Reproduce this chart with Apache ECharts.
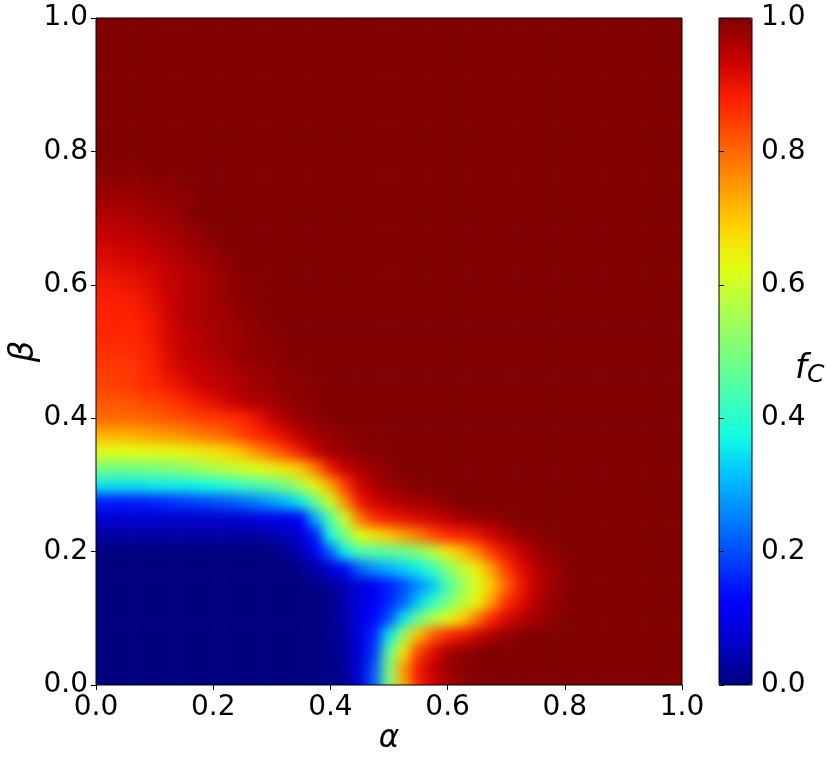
<!DOCTYPE html>
<html>
<head>
<meta charset="utf-8">
<title>fC heatmap</title>
<script src="https://cdn.jsdelivr.net/npm/echarts@6/dist/echarts.min.js"></script>
<style>
  html, body { margin: 0; padding: 0; background: #fff; }
  #clip { position: absolute; left: 96px; top: 18px; width: 586px; height: 667px; overflow: hidden; }
  #heat { position: absolute; left: -60px; top: -60px; width: 706px; height: 787px; filter: blur(6px); }
  #main { position: absolute; left: 0; top: 0; width: 831px; height: 762px; }
</style>
</head>
<body>
<div id="clip"><div id="heat"></div></div>
<div id="main"></div>
<script>
// jet colormap, 17 even stops
const jetColors = ["#00007f", "#0000c8", "#0000ff", "#0040ff", "#0080ff", "#00bfff", "#14ffe2", "#48ffaf", "#7bff7b",
  "#afff48", "#e2ff15", "#ffd200", "#ff9700", "#ff5c00", "#ff2100", "#c80000", "#800000"];

// alpha: 0 .. 1 step 0.025 (columns), beta: 0 .. 1 step 0.025 (rows, first row is beta = 0)
const alphaValues = [];
const betaValues = [];
for (let k = 0; k <= 40; k++) {
  alphaValues.push((k * 0.025).toFixed(3));
  betaValues.push((k * 0.025).toFixed(3));
}

const fcValues = [
  [0,0,0,0,0, 0,0,0,0,0, 0,0,0,0,0, 0,.005,.02,.08,.22, .5,.73,.88,.93,.97, .99,1,1,1,1, 1,1,1,1,1, 1,1,1,1,1, 1],
  [0,0,0,0,0, 0,0,0,0,0, 0,0,0,0,0, 0,.005,.02,.08,.21, .5,.74,.89,.94,.975, .99,1,1,1,1, 1,1,1,1,1, 1,1,1,1,1, 1],
  [0,0,0,0,0, 0,0,0,0,0, 0,0,0,0,0, 0,.01,.03,.08,.18, .46,.66,.84,.91,.96, .985,.995,1,1,1, 1,1,1,1,1, 1,1,1,1,1, 1],
  [0,0,0,0,0, 0,0,0,0,0, 0,0,0,0,0, 0,.01,.03,.09,.16, .35,.54,.71,.81,.87, .9,.93,.96,.98,.99, 1,1,1,1,1, 1,1,1,1,1, 1],
  [0,0,0,0,0, 0,0,0,0,0, 0,0,0,0,0, 0,.01,.04,.09,.13, .2,.35,.48,.56,.62, .69,.78,.87,.92,.95, .97,.985,.995,1,1, 1,1,1,1,1, 1],
  [0,0,0,0,0, 0,0,0,0,0, 0,0,0,0,0, 0,.01,.04,.08,.12, .16,.22,.32,.41,.49, .57,.64,.74,.86,.91, .95,.98,.99,1,1, 1,1,1,1,1, 1],
  [0,0,0,0,0, 0,0,0,0,0, 0,0,0,0,0, .01,.02,.05,.08,.11, .15,.2,.26,.32,.44, .53,.61,.7,.8,.89, .94,.97,.99,1,1, 1,1,1,1,1, 1],
  [0,0,0,0,0, 0,0,0,0,0, 0,0,0,0,.01, .03,.08,.13,.22,.27, .3,.33,.36,.42,.51, .58,.65,.74,.85,.91, .95,.975,.99,1,1, 1,1,1,1,1, 1],
  [0,0,0,0,0, 0,0,0,0,0, 0,0,0,.02,.05, .11,.22,.36,.44,.45, .46,.48,.51,.57,.65, .71,.77,.85,.9,.94, .97,.985,.995,1,1, 1,1,1,1,1, 1],
  [.03,.03,.03,.03,.03, .03,.03,.03,.03,.03, .03,.03,.04,.05,.07, .15,.38,.5,.62,.66, .7,.74,.78,.83,.87, .88,.9,.93,.96,.98, .99,1,1,1,1, 1,1,1,1,1, 1],
  [.07,.07,.07,.07,.07, .07,.07,.07,.07,.07, .08,.09,.1,.1,.12, .3,.45,.6,.78,.86, .89,.905,.92,.93,.95, .97,.98,.985,.99,1, 1,1,1,1,1, 1,1,1,1,1, 1],
  [.15,.15,.15,.15,.16, .17,.18,.19,.2,.21, .23,.25,.28,.31,.36, .48,.6,.76,.89,.93, .95,.96,.97,.98,.99, 1,1,1,1,1, 1,1,1,1,1, 1,1,1,1,1, 1],
  [.35,.35,.35,.35,.36, .36,.36,.37,.38,.4, .42,.44,.46,.5,.56, .64,.73,.85,.93,.96, .98,.99,1,1,1, 1,1,1,1,1, 1,1,1,1,1, 1,1,1,1,1, 1],
  [.49,.49,.49,.49,.5, .51,.52,.54,.56,.58, .6,.62,.64,.66,.7, .78,.89,.94,.96,.98, .99,1,1,1,1, 1,1,1,1,1, 1,1,1,1,1, 1,1,1,1,1, 1],
  [.62,.62,.62,.625,.63, .635,.64,.65,.66,.685, .71,.755,.8,.84,.89, .94,.97,.98,.99,.995, 1,1,1,1,1, 1,1,1,1,1, 1,1,1,1,1, 1,1,1,1,1, 1],
  [.72,.72,.72,.73,.74, .75,.76,.78,.79,.81, .84,.87,.89,.92,.95, .97,.98,.99,.995,1, 1,1,1,1,1, 1,1,1,1,1, 1,1,1,1,1, 1,1,1,1,1, 1],
  [.8,.8,.8,.8,.81, .82,.83,.84,.85,.86, .87,.9,.94,.96,.98, .99,.995,1,1,1, 1,1,1,1,1, 1,1,1,1,1, 1,1,1,1,1, 1,1,1,1,1, 1],
  [.82,.82,.82,.83,.84, .85,.87,.89,.91,.93, .95,.96,.97,.98,.99, .995,1,1,1,1, 1,1,1,1,1, 1,1,1,1,1, 1,1,1,1,1, 1,1,1,1,1, 1],
  [.84,.84,.85,.86,.87, .89,.91,.93,.94,.95, .96,.975,.98,.99,.99, .995,1,1,1,1, 1,1,1,1,1, 1,1,1,1,1, 1,1,1,1,1, 1,1,1,1,1, 1],
  [.85,.85,.85,.86,.88, .91,.93,.94,.95,.96, .97,.98,.985,.99,.995, 1,1,1,1,1, 1,1,1,1,1, 1,1,1,1,1, 1,1,1,1,1, 1,1,1,1,1, 1],
  [.86,.86,.86,.87,.885, .92,.94,.95,.96,.97, .98,.985,.99,.995,1, 1,1,1,1,1, 1,1,1,1,1, 1,1,1,1,1, 1,1,1,1,1, 1,1,1,1,1, 1],
  [.87,.87,.87,.875,.895, .925,.945,.955,.965,.975, .98,.99,.995,1,1, 1,1,1,1,1, 1,1,1,1,1, 1,1,1,1,1, 1,1,1,1,1, 1,1,1,1,1, 1],
  [.875,.875,.875,.88,.9, .93,.95,.96,.97,.975, .985,.99,1,1,1, 1,1,1,1,1, 1,1,1,1,1, 1,1,1,1,1, 1,1,1,1,1, 1,1,1,1,1, 1],
  [.88,.88,.88,.89,.91, .935,.95,.96,.97,.98, .99,.995,1,1,1, 1,1,1,1,1, 1,1,1,1,1, 1,1,1,1,1, 1,1,1,1,1, 1,1,1,1,1, 1],
  [.89,.89,.895,.905,.92, .94,.95,.96,.97,.985, .99,1,1,1,1, 1,1,1,1,1, 1,1,1,1,1, 1,1,1,1,1, 1,1,1,1,1, 1,1,1,1,1, 1],
  [.91,.91,.915,.92,.93, .945,.955,.965,.975,.985, .995,1,1,1,1, 1,1,1,1,1, 1,1,1,1,1, 1,1,1,1,1, 1,1,1,1,1, 1,1,1,1,1, 1],
  [.925,.925,.93,.935,.945, .955,.965,.975,.985,.995, 1,1,1,1,1, 1,1,1,1,1, 1,1,1,1,1, 1,1,1,1,1, 1,1,1,1,1, 1,1,1,1,1, 1],
  [.94,.94,.945,.95,.96, .965,.975,.985,.995,1, 1,1,1,1,1, 1,1,1,1,1, 1,1,1,1,1, 1,1,1,1,1, 1,1,1,1,1, 1,1,1,1,1, 1],
  [.955,.955,.96,.965,.97, .975,.985,.995,1,1, 1,1,1,1,1, 1,1,1,1,1, 1,1,1,1,1, 1,1,1,1,1, 1,1,1,1,1, 1,1,1,1,1, 1],
  [.97,.97,.97,.975,.98, .985,.99,1,1,1, 1,1,1,1,1, 1,1,1,1,1, 1,1,1,1,1, 1,1,1,1,1, 1,1,1,1,1, 1,1,1,1,1, 1],
  [.985,.985,.985,.985,.99, .99,.995,1,1,1, 1,1,1,1,1, 1,1,1,1,1, 1,1,1,1,1, 1,1,1,1,1, 1,1,1,1,1, 1,1,1,1,1, 1],
  [.995,.995,.995,.995,1, 1,1,1,1,1, 1,1,1,1,1, 1,1,1,1,1, 1,1,1,1,1, 1,1,1,1,1, 1,1,1,1,1, 1,1,1,1,1, 1],
  [1,1,1,1,1, 1,1,1,1,1, 1,1,1,1,1, 1,1,1,1,1, 1,1,1,1,1, 1,1,1,1,1, 1,1,1,1,1, 1,1,1,1,1, 1],
  [1,1,1,1,1, 1,1,1,1,1, 1,1,1,1,1, 1,1,1,1,1, 1,1,1,1,1, 1,1,1,1,1, 1,1,1,1,1, 1,1,1,1,1, 1],
  [1,1,1,1,1, 1,1,1,1,1, 1,1,1,1,1, 1,1,1,1,1, 1,1,1,1,1, 1,1,1,1,1, 1,1,1,1,1, 1,1,1,1,1, 1],
  [1,1,1,1,1, 1,1,1,1,1, 1,1,1,1,1, 1,1,1,1,1, 1,1,1,1,1, 1,1,1,1,1, 1,1,1,1,1, 1,1,1,1,1, 1],
  [1,1,1,1,1, 1,1,1,1,1, 1,1,1,1,1, 1,1,1,1,1, 1,1,1,1,1, 1,1,1,1,1, 1,1,1,1,1, 1,1,1,1,1, 1],
  [1,1,1,1,1, 1,1,1,1,1, 1,1,1,1,1, 1,1,1,1,1, 1,1,1,1,1, 1,1,1,1,1, 1,1,1,1,1, 1,1,1,1,1, 1],
  [1,1,1,1,1, 1,1,1,1,1, 1,1,1,1,1, 1,1,1,1,1, 1,1,1,1,1, 1,1,1,1,1, 1,1,1,1,1, 1,1,1,1,1, 1],
  [1,1,1,1,1, 1,1,1,1,1, 1,1,1,1,1, 1,1,1,1,1, 1,1,1,1,1, 1,1,1,1,1, 1,1,1,1,1, 1,1,1,1,1, 1],
  [1,1,1,1,1, 1,1,1,1,1, 1,1,1,1,1, 1,1,1,1,1, 1,1,1,1,1, 1,1,1,1,1, 1,1,1,1,1, 1,1,1,1,1, 1]
];

const FONT = '"DejaVu Sans"';
const PLOT = { left: 96, top: 18, width: 586, height: 667 };
const BAR = { left: 719, top: 18, width: 33, height: 667 };

// heatmap layer: cell centres sit on the grid values, edge cells repeat outward so the blur
// does not fade at the frame
const PAD = 3;
const nx = alphaValues.length;
const ny = betaValues.length;
const cellW = PLOT.width / (nx - 1);
const cellH = PLOT.height / (ny - 1);
const xCats = [];
const yCats = [];
for (let i = -PAD; i < nx + PAD; i++) xCats.push(String(i));
for (let j = -PAD; j < ny + PAD; j++) yCats.push(String(j));
const heatData = [];
for (let j = -PAD; j < ny + PAD; j++) {
  const row = fcValues[Math.min(ny - 1, Math.max(0, j))];
  for (let i = -PAD; i < nx + PAD; i++) {
    heatData.push([i + PAD, j + PAD, row[Math.min(nx - 1, Math.max(0, i))]]);
  }
}

const heat = echarts.init(document.getElementById("heat"));
heat.setOption({
  animation: false,
  grid: {
    left: 60 - (PAD + 0.5) * cellW,
    top: 60 - (PAD + 0.5) * cellH,
    width: xCats.length * cellW,
    height: yCats.length * cellH,
    outerBoundsMode: "none"
  },
  xAxis: { type: "category", data: xCats, show: false },
  yAxis: { type: "category", data: yCats, show: false },
  visualMap: { show: false, min: 0, max: 1, seriesIndex: 0, inRange: { color: jetColors } },
  series: [{ type: "heatmap", data: heatData, silent: true, progressive: 0 }]
});

const tickFmt = function (value) {
  return value.toFixed(1);
};
const axisBase = {
  type: "value",
  min: 0,
  max: 1,
  interval: 0.2,
  nameMoveOverlap: false,
  splitLine: { show: false },
  axisLine: { show: false },
  axisTick: { show: true, length: 5, lineStyle: { color: "#000", width: 1 } },
  axisLabel: { color: "#000", fontFamily: FONT, fontSize: 28, margin: 8, formatter: tickFmt, hideOverlap: false,
    showMinLabel: true, showMaxLabel: true, padding: [10, 0, 0, 0] },
  nameTextStyle: { color: "#000", fontFamily: FONT, fontStyle: "italic", fontSize: 34 }
};

const chart = echarts.init(document.getElementById("main"));
chart.setOption({
  animation: false,
  grid: [
    { left: PLOT.left, top: PLOT.top, width: PLOT.width, height: PLOT.height, outerBoundsMode: "none", show: true, borderColor: "#000", borderWidth: 1, backgroundColor: "transparent" },
    { left: BAR.left, top: BAR.top, width: BAR.width, height: BAR.height, outerBoundsMode: "none", show: true, borderColor: "#000", borderWidth: 1, backgroundColor: "transparent", z: 10 }
  ],
  xAxis: [
    Object.assign({}, axisBase, {
      gridIndex: 0, position: "bottom", name: "α", nameLocation: "middle", nameGap: 38,
      nameTextStyle: { color: "#000", fontFamily: FONT, fontStyle: "italic", fontSize: 31 },
      axisLabel: Object.assign({}, axisBase.axisLabel, { margin: 9, padding: 0 })
    }),
    { type: "value", gridIndex: 1, min: 0, max: 1, show: false }
  ],
  yAxis: [
    Object.assign({}, axisBase, { gridIndex: 0, position: "left", name: "β", nameLocation: "middle", nameGap: 55 }),
    Object.assign({}, axisBase, {
      gridIndex: 1, position: "right", name: "{f|f}{c|C}", nameLocation: "middle", nameRotate: 0, nameGap: 43, z: 11,
      axisLabel: Object.assign({}, axisBase.axisLabel, { margin: 9 }),
      nameTextStyle: {
        align: "left",
        padding: [36, 0, 0, 0],
        rich: {
          f: { fontFamily: FONT, fontStyle: "italic", fontSize: 34, color: "#000" },
          c: { fontFamily: FONT, fontStyle: "italic", fontSize: 25, color: "#000", verticalAlign: "bottom", padding: [12, 0, 0, 0] }
        }
      }
    })
  ],
  visualMap: {
    type: "continuous",
    min: 0,
    max: 1,
    left: BAR.left,
    top: BAR.top,
    itemWidth: BAR.width,
    itemHeight: BAR.height,
    padding: 0,
    text: null,
    showLabel: false,
    calculable: false,
    realtime: false,
    hoverLink: false,
    inRange: { color: jetColors },
    seriesIndex: []
  },
  series: []
});

window.addEventListener("resize", function () {
  heat.resize();
  chart.resize();
});
</script>
</body>
</html>
